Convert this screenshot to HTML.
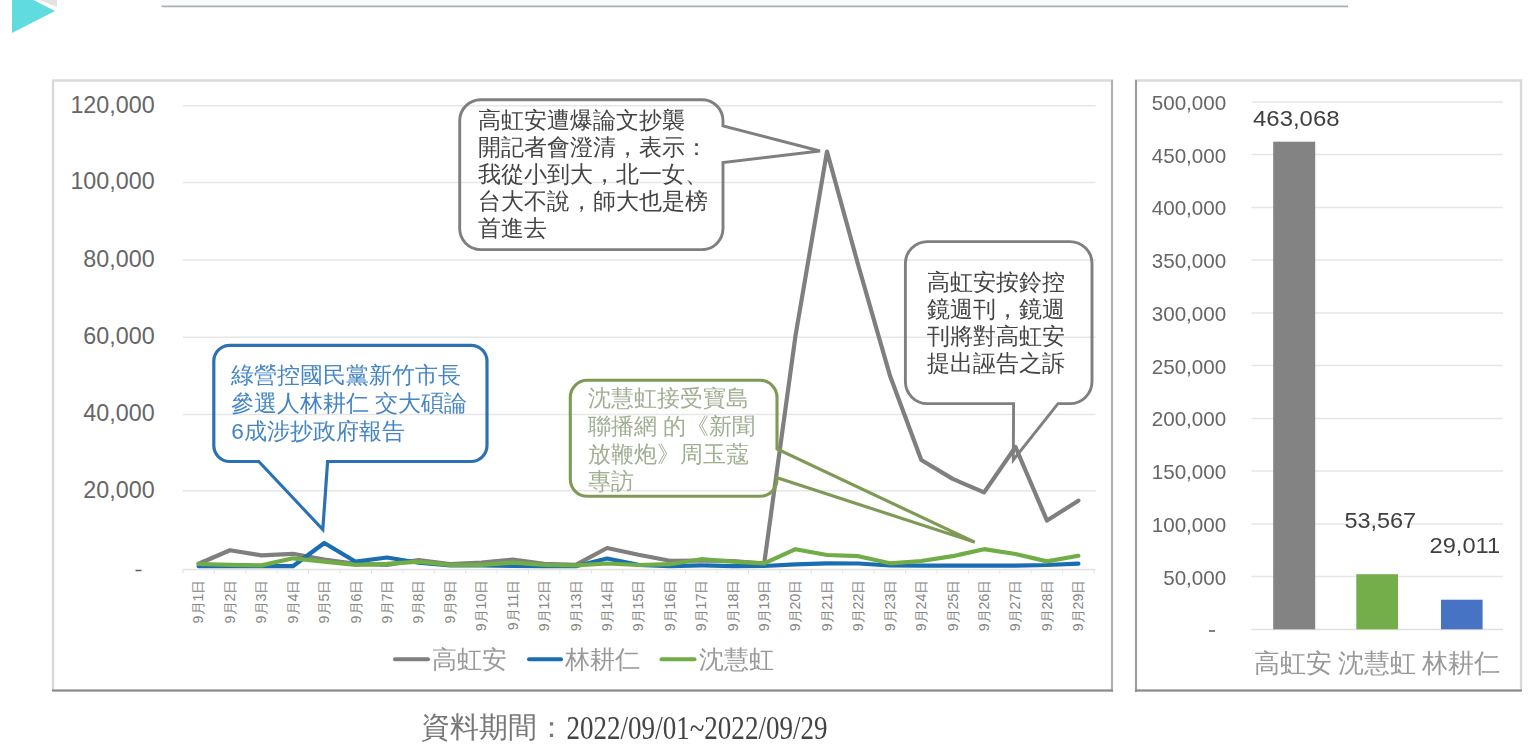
<!DOCTYPE html>
<html><head><meta charset="utf-8"><style>
html,body{margin:0;padding:0;background:#fff;}
body{width:1536px;height:754px;overflow:hidden;position:relative;font-family:"Liberation Sans",sans-serif;}
svg{position:absolute;left:0;top:0;filter:blur(0.45px);}
.yl{font-size:23.3px;fill:#666;}
.ryl{font-size:20.6px;fill:#666;}
.xl{font-size:14.2px;fill:#858585;}
.bt{font-size:22.6px;fill:#444;}
.bb{font-size:22.6px;fill:#4585c4;}
.bg{font-size:22.6px;fill:#a0ae92;}
.lg{font-size:24.5px;fill:#999;font-family:"Liberation Serif",serif;}
.dl{font-size:21.8px;fill:#404040;}
.cl{font-size:26px;fill:#999;font-family:"Liberation Serif",serif;}
.ftc{font-size:29px;fill:#777;}
.ftd{font-size:33px;fill:#444;font-family:"Liberation Serif",serif;}
</style></head><body>
<svg width="1536" height="754" viewBox="0 0 1536 754">
<polygon points="39,0 57,0 57,7" fill="#e4e2df"/>
<polygon points="12,-11 55,11 12,33" fill="#60dbde"/>
<rect x="161" y="0" width="1187" height="5.3" fill="#f6fbfc"/>
<line x1="161.5" y1="6.45" x2="1348" y2="6.45" stroke="#abafb3" stroke-width="1.8"/>
<rect x="53" y="80.5" width="1059" height="610" fill="#fff" stroke="#d9d9d9" stroke-width="2.4"/>
<line x1="1112" y1="80" x2="1112" y2="692" stroke="#b2b2b2" stroke-width="2"/>
<line x1="52" y1="690.5" x2="1113" y2="690.5" stroke="#8a8a8a" stroke-width="2"/>
<rect x="1136" y="80.5" width="385" height="610" fill="#fff" stroke="#d9d9d9" stroke-width="2.4"/>
<line x1="1136" y1="80" x2="1136" y2="692" stroke="#9c9c9c" stroke-width="2"/>
<line x1="1135" y1="690.5" x2="1522" y2="690.5" stroke="#8a8a8a" stroke-width="2"/>
<line x1="182.9" y1="490.8" x2="1095.6" y2="490.8" stroke="#e6e6e6" stroke-width="1.5"/>
<text x="154.6" y="497.6" text-anchor="end" class="yl">20,000</text>
<line x1="182.9" y1="414.6" x2="1095.6" y2="414.6" stroke="#e6e6e6" stroke-width="1.5"/>
<text x="154.6" y="421.4" text-anchor="end" class="yl">40,000</text>
<line x1="182.9" y1="337.2" x2="1095.6" y2="337.2" stroke="#e6e6e6" stroke-width="1.5"/>
<text x="154.6" y="344.0" text-anchor="end" class="yl">60,000</text>
<line x1="182.9" y1="260.1" x2="1095.6" y2="260.1" stroke="#e6e6e6" stroke-width="1.5"/>
<text x="154.6" y="266.9" text-anchor="end" class="yl">80,000</text>
<line x1="182.9" y1="182.5" x2="1095.6" y2="182.5" stroke="#e6e6e6" stroke-width="1.5"/>
<text x="154.6" y="189.3" text-anchor="end" class="yl">100,000</text>
<line x1="182.9" y1="105.7" x2="1095.6" y2="105.7" stroke="#e6e6e6" stroke-width="1.5"/>
<text x="154.6" y="112.5" text-anchor="end" class="yl">120,000</text>
<line x1="135.5" y1="570.5" x2="141.5" y2="570.5" stroke="#595959" stroke-width="1.5"/>
<line x1="182.9" y1="569.6" x2="1095.5" y2="569.6" stroke="#e2e2e2" stroke-width="1.5"/>
<line x1="182.9" y1="569.6" x2="182.9" y2="573.6" stroke="#e2e2e2" stroke-width="1"/>
<line x1="214.3" y1="569.6" x2="214.3" y2="573.6" stroke="#e2e2e2" stroke-width="1"/>
<line x1="245.7" y1="569.6" x2="245.7" y2="573.6" stroke="#e2e2e2" stroke-width="1"/>
<line x1="277.2" y1="569.6" x2="277.2" y2="573.6" stroke="#e2e2e2" stroke-width="1"/>
<line x1="308.6" y1="569.6" x2="308.6" y2="573.6" stroke="#e2e2e2" stroke-width="1"/>
<line x1="340.0" y1="569.6" x2="340.0" y2="573.6" stroke="#e2e2e2" stroke-width="1"/>
<line x1="371.4" y1="569.6" x2="371.4" y2="573.6" stroke="#e2e2e2" stroke-width="1"/>
<line x1="402.8" y1="569.6" x2="402.8" y2="573.6" stroke="#e2e2e2" stroke-width="1"/>
<line x1="434.3" y1="569.6" x2="434.3" y2="573.6" stroke="#e2e2e2" stroke-width="1"/>
<line x1="465.7" y1="569.6" x2="465.7" y2="573.6" stroke="#e2e2e2" stroke-width="1"/>
<line x1="497.1" y1="569.6" x2="497.1" y2="573.6" stroke="#e2e2e2" stroke-width="1"/>
<line x1="528.5" y1="569.6" x2="528.5" y2="573.6" stroke="#e2e2e2" stroke-width="1"/>
<line x1="559.9" y1="569.6" x2="559.9" y2="573.6" stroke="#e2e2e2" stroke-width="1"/>
<line x1="591.4" y1="569.6" x2="591.4" y2="573.6" stroke="#e2e2e2" stroke-width="1"/>
<line x1="622.8" y1="569.6" x2="622.8" y2="573.6" stroke="#e2e2e2" stroke-width="1"/>
<line x1="654.2" y1="569.6" x2="654.2" y2="573.6" stroke="#e2e2e2" stroke-width="1"/>
<line x1="685.6" y1="569.6" x2="685.6" y2="573.6" stroke="#e2e2e2" stroke-width="1"/>
<line x1="717.0" y1="569.6" x2="717.0" y2="573.6" stroke="#e2e2e2" stroke-width="1"/>
<line x1="748.5" y1="569.6" x2="748.5" y2="573.6" stroke="#e2e2e2" stroke-width="1"/>
<line x1="779.9" y1="569.6" x2="779.9" y2="573.6" stroke="#e2e2e2" stroke-width="1"/>
<line x1="811.3" y1="569.6" x2="811.3" y2="573.6" stroke="#e2e2e2" stroke-width="1"/>
<line x1="842.7" y1="569.6" x2="842.7" y2="573.6" stroke="#e2e2e2" stroke-width="1"/>
<line x1="874.1" y1="569.6" x2="874.1" y2="573.6" stroke="#e2e2e2" stroke-width="1"/>
<line x1="905.6" y1="569.6" x2="905.6" y2="573.6" stroke="#e2e2e2" stroke-width="1"/>
<line x1="937.0" y1="569.6" x2="937.0" y2="573.6" stroke="#e2e2e2" stroke-width="1"/>
<line x1="968.4" y1="569.6" x2="968.4" y2="573.6" stroke="#e2e2e2" stroke-width="1"/>
<line x1="999.8" y1="569.6" x2="999.8" y2="573.6" stroke="#e2e2e2" stroke-width="1"/>
<line x1="1031.2" y1="569.6" x2="1031.2" y2="573.6" stroke="#e2e2e2" stroke-width="1"/>
<line x1="1062.7" y1="569.6" x2="1062.7" y2="573.6" stroke="#e2e2e2" stroke-width="1"/>
<line x1="1094.1" y1="569.6" x2="1094.1" y2="573.6" stroke="#e2e2e2" stroke-width="1"/>
<text transform="translate(203.4,579.6) rotate(-90)" text-anchor="end" class="xl">9月1日</text>
<text transform="translate(234.8,579.6) rotate(-90)" text-anchor="end" class="xl">9月2日</text>
<text transform="translate(266.3,579.6) rotate(-90)" text-anchor="end" class="xl">9月3日</text>
<text transform="translate(297.7,579.6) rotate(-90)" text-anchor="end" class="xl">9月4日</text>
<text transform="translate(329.1,579.6) rotate(-90)" text-anchor="end" class="xl">9月5日</text>
<text transform="translate(360.5,579.6) rotate(-90)" text-anchor="end" class="xl">9月6日</text>
<text transform="translate(391.9,579.6) rotate(-90)" text-anchor="end" class="xl">9月7日</text>
<text transform="translate(423.4,579.6) rotate(-90)" text-anchor="end" class="xl">9月8日</text>
<text transform="translate(454.8,579.6) rotate(-90)" text-anchor="end" class="xl">9月9日</text>
<text transform="translate(486.2,579.6) rotate(-90)" text-anchor="end" class="xl">9月10日</text>
<text transform="translate(517.6,579.6) rotate(-90)" text-anchor="end" class="xl">9月11日</text>
<text transform="translate(549.0,579.6) rotate(-90)" text-anchor="end" class="xl">9月12日</text>
<text transform="translate(580.5,579.6) rotate(-90)" text-anchor="end" class="xl">9月13日</text>
<text transform="translate(611.9,579.6) rotate(-90)" text-anchor="end" class="xl">9月14日</text>
<text transform="translate(643.3,579.6) rotate(-90)" text-anchor="end" class="xl">9月15日</text>
<text transform="translate(674.7,579.6) rotate(-90)" text-anchor="end" class="xl">9月16日</text>
<text transform="translate(706.1,579.6) rotate(-90)" text-anchor="end" class="xl">9月17日</text>
<text transform="translate(737.6,579.6) rotate(-90)" text-anchor="end" class="xl">9月18日</text>
<text transform="translate(769.0,579.6) rotate(-90)" text-anchor="end" class="xl">9月19日</text>
<text transform="translate(800.4,579.6) rotate(-90)" text-anchor="end" class="xl">9月20日</text>
<text transform="translate(831.8,579.6) rotate(-90)" text-anchor="end" class="xl">9月21日</text>
<text transform="translate(863.2,579.6) rotate(-90)" text-anchor="end" class="xl">9月22日</text>
<text transform="translate(894.7,579.6) rotate(-90)" text-anchor="end" class="xl">9月23日</text>
<text transform="translate(926.1,579.6) rotate(-90)" text-anchor="end" class="xl">9月24日</text>
<text transform="translate(957.5,579.6) rotate(-90)" text-anchor="end" class="xl">9月25日</text>
<text transform="translate(988.9,579.6) rotate(-90)" text-anchor="end" class="xl">9月26日</text>
<text transform="translate(1020.3,579.6) rotate(-90)" text-anchor="end" class="xl">9月27日</text>
<text transform="translate(1051.8,579.6) rotate(-90)" text-anchor="end" class="xl">9月28日</text>
<text transform="translate(1083.2,579.6) rotate(-90)" text-anchor="end" class="xl">9月29日</text>
<polyline points="198.6,563.8 230.0,550.2 261.5,555.4 292.9,553.8 324.3,559.6 355.7,563.8 387.1,564.8 418.6,560.0 450.0,564.0 481.4,562.7 512.8,559.6 544.2,563.8 575.7,564.8 607.1,548.0 638.5,554.8 669.9,560.8 701.3,560.5 732.8,561.0 764.2,563.5 795.6,335.0 827.0,151.5 858.4,265.8 889.9,375.4 921.3,460.0 952.7,478.9 984.1,492.4 1015.5,447.0 1047.0,520.6 1078.4,500.7" fill="none" stroke="#7f7f7f" stroke-width="4.2" stroke-linejoin="round" stroke-linecap="round"/>
<polyline points="198.6,566.2 230.0,566.2 261.5,566.2 292.9,566.2 324.3,543.0 355.7,561.7 387.1,557.5 418.6,562.7 450.0,565.4 481.4,565.4 512.8,566.0 544.2,566.2 575.7,566.2 607.1,558.5 638.5,564.8 669.9,566.2 701.3,565.4 732.8,566.2 764.2,566.0 795.6,564.4 827.0,563.3 858.4,563.5 889.9,565.5 921.3,565.6 952.7,565.6 984.1,565.6 1015.5,565.6 1047.0,565.0 1078.4,563.7" fill="none" stroke="#1a6db0" stroke-width="4.2" stroke-linejoin="round" stroke-linecap="round"/>
<polyline points="198.6,564.0 230.0,564.8 261.5,565.4 292.9,558.3 324.3,561.7 355.7,564.8 387.1,563.8 418.6,561.7 450.0,564.8 481.4,564.8 512.8,562.7 544.2,564.8 575.7,565.4 607.1,563.5 638.5,565.0 669.9,564.2 701.3,559.2 732.8,561.7 764.2,563.3 795.6,549.2 827.0,555.0 858.4,556.2 889.9,563.3 921.3,561.0 952.7,556.2 984.1,549.2 1015.5,554.0 1047.0,561.4 1078.4,555.8" fill="none" stroke="#70ad47" stroke-width="4.2" stroke-linejoin="round" stroke-linecap="round"/>
<path d="M480.7,99.7 H702 A21,21 0 0 1 723,120.7 V125.9 L820,151 L723,162.6 V228.6 A21,21 0 0 1 702,249.6 H480.7 A21,21 0 0 1 459.7,228.6 V120.7 A21,21 0 0 1 480.7,99.7 Z" fill="none" stroke="#7f7f7f" stroke-width="2.9" stroke-linejoin="miter"/>
<path d="M927.4,241.6 H1070 A22,22 0 0 1 1092,263.6 V381.6 A22,22 0 0 1 1070,403.6 H1058 L1013.3,460 L1013.6,403.6 H927.4 A22,22 0 0 1 905.4,381.6 V263.6 A22,22 0 0 1 927.4,241.6 Z" fill="none" stroke="#7f7f7f" stroke-width="2.9" stroke-linejoin="miter"/>
<path d="M229.8,345.3 H471 A16,16 0 0 1 487,361.3 V445.5 A16,16 0 0 1 471,461.5 H327.6 L322.8,529.6 L258.8,461.5 H229.8 A16,16 0 0 1 213.8,445.5 V361.3 A16,16 0 0 1 229.8,345.3 Z" fill="none" stroke="#2c72b3" stroke-width="3.2" stroke-linejoin="miter"/>
<path d="M587.3,380.3 H760 A17,17 0 0 1 777,397.3 V448.9 L974.8,542.2 L777,477.7 V479.3 A17,17 0 0 1 760,496.3 H587.3 A17,17 0 0 1 570.3,479.3 V397.3 A17,17 0 0 1 587.3,380.3 Z" fill="none" stroke="#7f9a56" stroke-width="3.1" stroke-linejoin="miter"/>
<text x="477.5" y="127.5" class="bt">高虹安遭爆論文抄襲</text>
<text x="477.5" y="154.5" class="bt">開記者會澄清，表示：</text>
<text x="477.5" y="181.5" class="bt">我從小到大，北一女、</text>
<text x="477.5" y="208.5" class="bt">台大不說，師大也是榜</text>
<text x="477.5" y="235.5" class="bt">首進去</text>
<text x="926.6" y="289.5" class="bt">高虹安按鈴控</text>
<text x="926.6" y="316.5" class="bt">鏡週刊，鏡週</text>
<text x="926.6" y="343.5" class="bt">刊將對高虹安</text>
<text x="926.6" y="370.5" class="bt">提出誣告之訴</text>
<text x="231.2" y="383.0" class="bb">綠營控國民黨新竹市長</text>
<text x="231.2" y="411.0" class="bb">參選人林耕仁 交大碩論</text>
<text x="231.2" y="439.0" class="bb">6成涉抄政府報告</text>
<text x="588" y="406.0" class="bg">沈慧虹接受寶島</text>
<text x="588" y="433.8" class="bg">聯播網 的《新聞</text>
<text x="588" y="461.6" class="bg">放鞭炮》周玉蔻</text>
<text x="588" y="489.4" class="bg">專訪</text>
<line x1="395" y1="659.3" x2="428" y2="659.3" stroke="#7f7f7f" stroke-width="4" stroke-linecap="round"/>
<text x="432" y="668" class="lg">高虹安</text>
<line x1="529" y1="659.3" x2="561" y2="659.3" stroke="#1a6db0" stroke-width="4" stroke-linecap="round"/>
<text x="564.6" y="668" class="lg">林耕仁</text>
<line x1="661.5" y1="659.3" x2="694.5" y2="659.3" stroke="#70ad47" stroke-width="4" stroke-linecap="round"/>
<text x="698.6" y="668" class="lg">沈慧虹</text>
<line x1="1251.4" y1="576.6" x2="1503" y2="576.6" stroke="#e6e6e6" stroke-width="1.5"/>
<text x="1226.2" y="584.5" text-anchor="end" class="ryl">50,000</text>
<line x1="1251.4" y1="523.9" x2="1503" y2="523.9" stroke="#e6e6e6" stroke-width="1.5"/>
<text x="1226.2" y="531.8" text-anchor="end" class="ryl">100,000</text>
<line x1="1251.4" y1="471.1" x2="1503" y2="471.1" stroke="#e6e6e6" stroke-width="1.5"/>
<text x="1226.2" y="479.0" text-anchor="end" class="ryl">150,000</text>
<line x1="1251.4" y1="418.4" x2="1503" y2="418.4" stroke="#e6e6e6" stroke-width="1.5"/>
<text x="1226.2" y="426.3" text-anchor="end" class="ryl">200,000</text>
<line x1="1251.4" y1="365.6" x2="1503" y2="365.6" stroke="#e6e6e6" stroke-width="1.5"/>
<text x="1226.2" y="373.5" text-anchor="end" class="ryl">250,000</text>
<line x1="1251.4" y1="312.9" x2="1503" y2="312.9" stroke="#e6e6e6" stroke-width="1.5"/>
<text x="1226.2" y="320.8" text-anchor="end" class="ryl">300,000</text>
<line x1="1251.4" y1="260.1" x2="1503" y2="260.1" stroke="#e6e6e6" stroke-width="1.5"/>
<text x="1226.2" y="268.0" text-anchor="end" class="ryl">350,000</text>
<line x1="1251.4" y1="207.4" x2="1503" y2="207.4" stroke="#e6e6e6" stroke-width="1.5"/>
<text x="1226.2" y="215.3" text-anchor="end" class="ryl">400,000</text>
<line x1="1251.4" y1="154.6" x2="1503" y2="154.6" stroke="#e6e6e6" stroke-width="1.5"/>
<text x="1226.2" y="162.5" text-anchor="end" class="ryl">450,000</text>
<line x1="1251.4" y1="101.9" x2="1503" y2="101.9" stroke="#e6e6e6" stroke-width="1.5"/>
<text x="1226.2" y="109.8" text-anchor="end" class="ryl">500,000</text>
<line x1="1251.4" y1="629.4" x2="1503" y2="629.4" stroke="#e0e0e0" stroke-width="1.5"/>
<line x1="1209" y1="631" x2="1215" y2="631" stroke="#595959" stroke-width="1.5"/>
<rect x="1273.2" y="141.7" width="42.0" height="487.6" fill="#838383"/>
<text x="1296.3" y="126.3" text-anchor="middle" class="dl" textLength="86.5" lengthAdjust="spacingAndGlyphs">463,068</text>
<text x="1293.3" y="672" text-anchor="middle" class="cl">高虹安</text>
<rect x="1356.3" y="574.2" width="41.7" height="55.1" fill="#74ae4a"/>
<text x="1380.2" y="527.6" text-anchor="middle" class="dl" textLength="71.6" lengthAdjust="spacingAndGlyphs">53,567</text>
<text x="1377.2" y="672" text-anchor="middle" class="cl">沈慧虹</text>
<rect x="1441" y="599.7" width="41.6" height="29.6" fill="#4673c4"/>
<text x="1464.8" y="553.4" text-anchor="middle" class="dl" textLength="70.6" lengthAdjust="spacingAndGlyphs">29,011</text>
<text x="1461.1" y="672" text-anchor="middle" class="cl">林耕仁</text>
<text x="421" y="737" class="ftc">資料期間：</text>
<text transform="translate(566.5,738.7) scale(0.82,1)" class="ftd">2022/09/01~2022/09/29</text>
</svg>

</body></html>
